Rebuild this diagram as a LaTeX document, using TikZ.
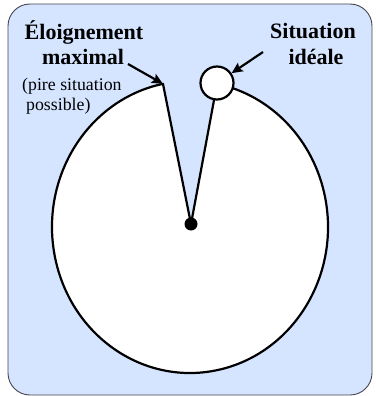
\documentclass[tikz,border=0pt]{standalone}
\usepackage{fontspec}
\setmainfont{Liberation Serif}
\usetikzlibrary{arrows.meta,calc}
\definecolor{bgblue}{RGB}{214,229,255}
\definecolor{frame}{RGB}{70,70,80}
\tikzset{
  big/.style={font=\fontsize{22}{25}\selectfont\bfseries, inner sep=0pt, anchor=base},
  small/.style={font=\fontsize{17.8}{20}\selectfont, inner sep=0pt, anchor=base west},
  outline/.style={line width=2.2pt, draw=black},
  pointer/.style={line width=2.2pt, -{Stealth[length=11pt,width=10pt,inset=2pt]}}
}
\begin{document}
\begin{tikzpicture}[x=1pt,y=-1pt]
\useasboundingbox (0,0) rectangle (375,396);
% background panel
\draw[fill=bgblue, draw=frame, line width=0.9pt, rounded corners=22pt] (8,4) rectangle (372,395);
% pie (ellipse centre 190,227)
\coordinate (ctr) at (190,227);
\coordinate (hub) at (191,224);
\coordinate (tip) at ($(ctr)+(101.3:138pt and 146pt)$);
\coordinate (ideal) at (217,83);
\draw[outline, fill=white, line join=round]
  (hub) -- (tip) arc[start angle=101.3, end angle=438.7, x radius=138pt, y radius=146pt] -- (hub);
\node[circle, fill=black, inner sep=0pt, minimum size=13pt] (hubdot) at (hub) {};
\node[circle, outline, fill=white, inner sep=0pt, minimum size=33pt] (sc) at (ideal) {};
% texts
\node[big] (elo1) at (84,40) {Éloignement};
\node[big] (elo2) at (83,65) {maximal};
\node[small] (pire) at (22,90) {(pire situation};
\node[small] (poss) at (26,110) {possible)};
\node[big] (sit1) at (313,38) {Situation};
\node[big] (sit2) at (316,65) {idéale};
% arrows
\coordinate (a1) at (128,64);
\coordinate (a2) at (263,52);
\draw[pointer] (a1) -- (tip);
\draw[pointer] (a2) -- (sc);
\end{tikzpicture}
\end{document}
